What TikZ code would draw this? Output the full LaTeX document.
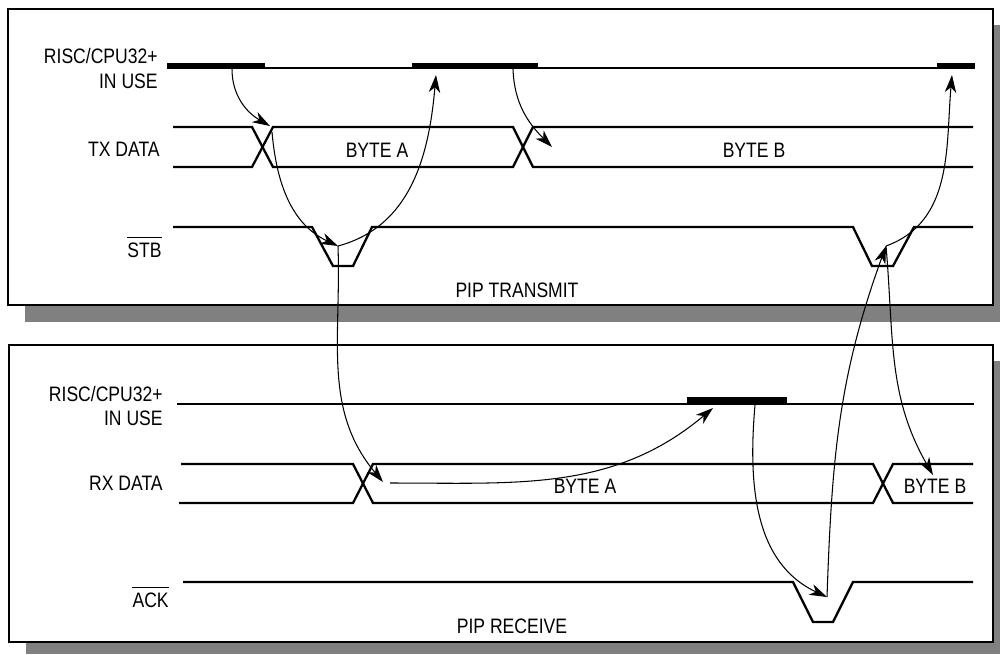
\documentclass[tikz,border=0pt]{standalone}
\usepackage{fontspec}
\setmainfont{Liberation Sans}[FakeStretch=0.84]
\usetikzlibrary{arrows.meta}
\definecolor{shadowgray}{HTML}{808080}

\begin{document}
\begin{tikzpicture}[x=0.02cm, y=-0.02cm,
  font=\fontsize{11.9}{14}\selectfont,
  panel/.style={draw, line width=1.4pt, fill=white},
  shade/.style={fill=shadowgray},
  sig/.style={line width=1.3pt, line join=miter},
  busy/.style={fill=black},
  cause/.style={-{Stealth[length=10pt, width=6.5pt, inset=3pt]}, line width=0.6pt},
  lbl/.style={inner sep=0pt, anchor=base east},
  txt/.style={inner sep=0pt, anchor=base},
  bar/.style={line width=0.6pt}]
\useasboundingbox (0,0) rectangle (1000,654);

% Panels
\fill[shade] (25,25) rectangle (1000,322);
\draw[panel] (8,9) rectangle (993,305);
\fill[shade] (26,361) rectangle (1000,654);
\draw[panel] (9,345) rectangle (993,642);

% PIP transmit
\node[lbl] (tcpu1) at (158,63) {RISC/CPU32+};
\node[lbl] (tcpu2) at (158,88) {IN USE};
\node[lbl] (txlbl) at (160,156) {TX DATA};
\node[lbl] (stblbl) at (162,257) {STB};
\draw[bar] ([yshift=2.8pt]stblbl.north west) -- ([yshift=2.8pt]stblbl.north east);
\node[txt] (txa) at (377,157) {BYTE A};
\node[txt] (txb) at (754,157) {BYTE B};
\node[txt] (ttitle) at (517,297) {PIP TRANSMIT};

\draw[sig] (167,68) -- (975,68);
\fill[busy] (167,63.3) rectangle (265,69.3);
\fill[busy] (412,63.3) rectangle (538,69.3);
\fill[busy] (937,63.3) rectangle (975,69.3);
\draw[sig] (173,127) -- (252,127) -- (273,167) -- (513,167) -- (533,127) -- (973,127);
\draw[sig] (173,167) -- (252,167) -- (273,127) -- (513,127) -- (533,167) -- (973,167);
\draw[sig] (173,227) -- (312,227) -- (333,266) -- (353,266) -- (372,227)
  -- (853,227) -- (872,266) -- (893,266) -- (914,227) -- (973,227);

% PIP receive
\node[lbl] (rcpu1) at (163,401) {RISC/CPU32+};
\node[lbl] (rcpu2) at (163,425) {IN USE};
\node[lbl] (rxlbl) at (163,490) {RX DATA};
\node[lbl] (acklbl) at (169,607) {ACK};
\draw[bar] ([yshift=2.8pt]acklbl.north west) -- ([yshift=2.8pt]acklbl.north east);
\node[txt] (rxa) at (585,493) {BYTE A};
\node[txt] (rxb) at (935,493) {BYTE B};
\node[txt] (rtitle) at (512,633) {PIP RECEIVE};

\draw[sig] (177,404) -- (974,404);
\fill[busy] (687,397.3) rectangle (787,405.3);
\draw[sig] (181,464) -- (353,464) -- (373,503) -- (873,503) -- (893,464) -- (973,464);
\draw[sig] (179,503) -- (353,503) -- (373,464) -- (873,464) -- (893,503) -- (973,503);
\draw[sig] (183,582) -- (793,582) -- (813,622) -- (833,622) -- (853,582) -- (973,582);

% Handshake points
\coordinate (tbusyA) at (232,69);
\coordinate (txin) at (270,126);
\coordinate (txout) at (272,132);
\coordinate (stbA) at (338,246);
\coordinate (tbusyB) at (436,75);
\coordinate (tbusyBout) at (513,69);
\coordinate (txBin) at (552,147);
\coordinate (rxin) at (383,482);
\coordinate (rxout) at (390,483);
\coordinate (rbusyin) at (713,408);
\coordinate (rbusyout) at (755,405);
\coordinate (ackA) at (827,597);
\coordinate (stbB) at (886,246);
\coordinate (tbusyC) at (952,75);
\coordinate (rxBin) at (933,475);

% Cause and effect
\draw[cause] (tbusyA) to[out=-90, in=150] (txin);
\draw[cause] (txout) to[out=-85, in=155] (stbA);
\draw[cause] (stbA) to[out=15, in=-95] (tbusyB);
\draw[cause] (tbusyBout) to[out=-88, in=135] (txBin);
\draw[cause] (stbA) to[out=-88, in=130] (rxin);
\draw[cause] (rxout) to[out=0, in=-140] (rbusyin);
\draw[cause] (rbusyout) to[out=-95, in=155] (ackA);
\draw[cause] (ackA) to[out=88, in=-110] (stbB);
\draw[cause] (stbB) to[out=20, in=-95] (tbusyC);
\draw[cause] (stbB) to[out=-85, in=120] (rxBin);

\end{tikzpicture}
\end{document}
